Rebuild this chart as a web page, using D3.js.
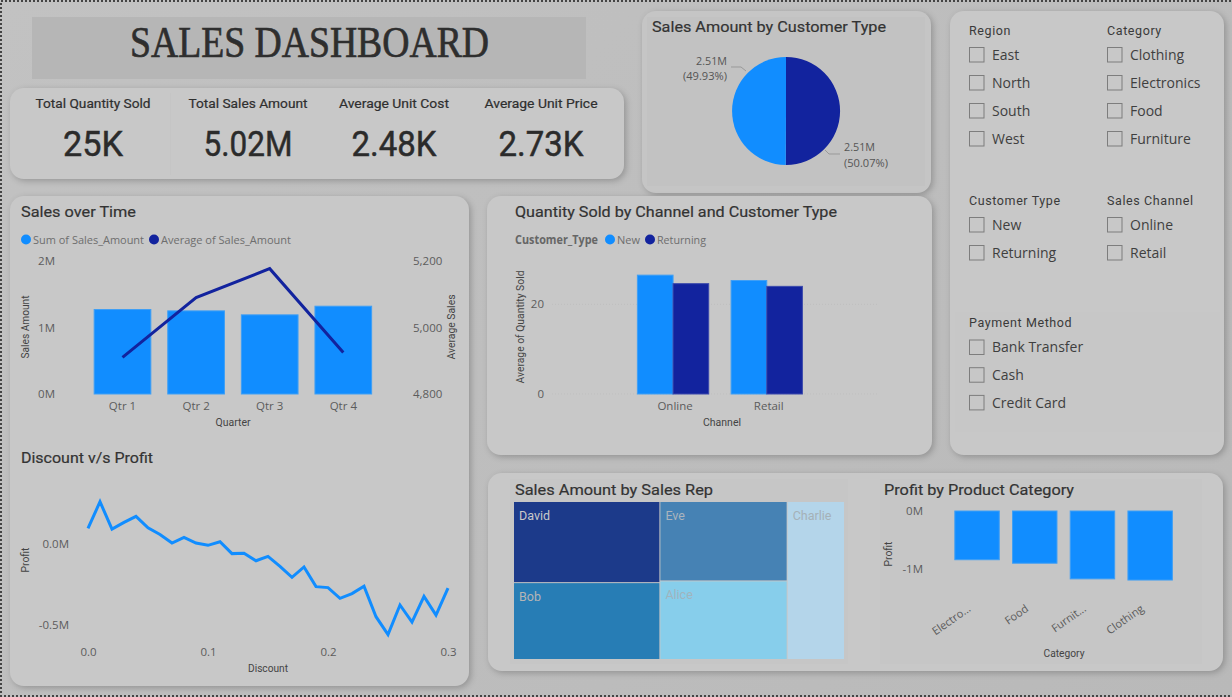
<!DOCTYPE html>
<html>
<head>
<meta charset="utf-8">
<script src="https://cdn.jsdelivr.net/npm/d3@7"></script>
<style>
  html, body { height: 100%; }
  body { margin: 0; background: linear-gradient(135deg, #c2c2c2, #b9b9b9); overflow: hidden; }
  svg { display: block; }
  .panel { filter: drop-shadow(2px 2px 3px rgba(0,0,0,0.22)); }
  .tick text { font-family: "Open Sans", sans-serif; font-size: 11.5px; fill: #5c5c5c; }
</style>
</head>
<body>
<script>
var svgWidth = 1232;
var svgHeight = 697;

// kpi cards
var kpiLabels = ["Total Quantity Sold", "Total Sales Amount", "Average Unit Cost", "Average Unit Price"];
var kpiValues = ["25K", "5.02M", "2.48K", "2.73K"];

// pie
var customerTypes = ["Returning", "New"];
var customerSales = [50.07, 49.93];

// sales over time
var quarters = ["Qtr 1", "Qtr 2", "Qtr 3", "Qtr 4"];
var quarterSum = [1270000, 1250000, 1190000, 1320000];
var quarterAvg = [4910, 5090, 5177, 4925];

// discount v/s profit
var discounts = [0, 0.01, 0.02, 0.03, 0.04, 0.05, 0.06, 0.07, 0.08, 0.09, 0.1, 0.11, 0.12, 0.13, 0.14, 0.15,
  0.16, 0.17, 0.18, 0.19, 0.2, 0.21, 0.22, 0.23, 0.24, 0.25, 0.26, 0.27, 0.28, 0.29, 0.3];
var discountProfit = [0.094, 0.258, 0.09, 0.131, 0.168, 0.098, 0.057, 0.004, 0.039, 0.004, -0.01, 0.012, -0.061, -0.059, -0.105, -0.078,
  -0.139, -0.207, -0.143, -0.264, -0.27, -0.336, -0.307, -0.262, -0.449, -0.559, -0.377, -0.482, -0.324, -0.439, -0.273];

// quantity by channel
var channels = ["Online", "Retail"];
var newQuantity = [26.5, 25.3];
var returningQuantity = [24.6, 24.0];

// treemap
var salesReps = ["David", "Bob", "Eve", "Alice", "Charlie"];
var repSales = [1.14, 1.08, 0.97, 0.96, 0.87];
var repColors = ["#1c3a8a", "#277db5", "#4682b4", "#87ceeb", "#b4d5ea"];
var repTextColors = ["#c9c9c9", "#b5b5b5", "#aab4bd", "#a0b4be", "#a5b1b8"];

// profit by category
var productCategories = ["Electronics", "Food", "Furniture", "Clothing"];
var categoryLabels = ["Electro...", "Food", "Furnit...", "Clothing"];
var categoryProfit = [-0.84, -0.9, -1.17, -1.19];

// slicers
var regionItems = ["East", "North", "South", "West"];
var categoryItems = ["Clothing", "Electronics", "Food", "Furniture"];
var customerItems = ["New", "Returning"];
var channelItems = ["Online", "Retail"];
var paymentItems = ["Bank Transfer", "Cash", "Credit Card"];

var lightBlue = "#118dff";
var darkBlue = "#12239e";
var lightEdge = "#3f9ff5";
var darkEdge = "#3b49ac";
var titleFont = "Roboto, sans-serif";
var bodyFont = "'Open Sans', sans-serif";

var svg = d3.select("body")
  .append("svg")
  .attr("width", svgWidth)
  .attr("height", svgHeight);

function panel(x, y, w, h, r, fill) {
  svg.append("rect")
    .attr("class", "panel")
    .attr("x", x).attr("y", y)
    .attr("width", w).attr("height", h)
    .attr("rx", r)
    .attr("fill", fill || "#c8c8c8");
}

function box(x, y, w, h, fill) {
  svg.append("rect")
    .attr("x", x).attr("y", y)
    .attr("width", w).attr("height", h)
    .attr("fill", fill);
}

// fit = width the text has to fill, it squeezes the glyphs to mimic the narrow font
// heavy = thin outline in the text colour, for weights between regular and bold
function label(x, y, str, o) {
  o = o || {};
  var t = svg.append("text")
    .attr("x", x).attr("y", y)
    .attr("dy", "0.35em")
    .attr("text-anchor", o.anchor || "start")
    .attr("font-family", o.font || titleFont)
    .attr("font-size", o.size || 12)
    .attr("font-weight", o.weight || 400)
    .attr("fill", o.color || "#333")
    .text(str);
  if (o.fit) t.attr("textLength", o.fit).attr("lengthAdjust", "spacingAndGlyphs");
  if (o.rotate) t.attr("transform", `rotate(${o.rotate}, ${x}, ${y})`);
  if (o.spacing) t.attr("letter-spacing", o.spacing);
  if (o.heavy) t.attr("stroke", o.color || "#333").attr("stroke-width", o.heavy);
  return t;
}

function styleAxis(g) {
  g.select(".domain").remove();
  g.selectAll("line").remove();
}

// backgrounds
panel(10, 88, 614, 91, 14);
panel(642, 11, 289, 182, 14, "#c5c5c5");
panel(950, 11, 274, 444, 14);
panel(10, 196, 459, 490, 14);
panel(487, 196, 445, 259, 14);
panel(488, 473, 735, 198, 14);
box(32, 17, 554, 62, "#b6b6b6");
box(647, 17, 278, 169, "#c2c2c2");
box(510, 479, 338, 185, "#c6c6c6");
box(880, 479, 322, 185, "#c6c6c6");
box(955, 312, 265, 120, "#c7c7c7");
box(170, 93, 1, 82, "#c5c5c5");

// title
label(309.5, 42, "SALES DASHBOARD", { anchor: "middle", font: "'Liberation Serif', serif", size: 44, color: "#2e2e2e", fit: 359, heavy: 0.7 });

// kpis
var kpiCentres = [93, 248, 394, 541];
var kpiLabelWidths = [115, 119, 110, 113];
var kpiValueWidths = [60, 89, 85, 85];
kpiLabels.forEach(function(d, i) {
  label(kpiCentres[i], 103.5, d, { anchor: "middle", size: 12.5, color: "#2f2f2f", fit: kpiLabelWidths[i], heavy: 0.2 });
  label(kpiCentres[i], 144, kpiValues[i], { anchor: "middle", size: 35, color: "#2b2b2b", fit: kpiValueWidths[i], heavy: 0.5 });
});

// pie
label(652, 27, "Sales Amount by Customer Type", { size: 15.5, fit: 234, heavy: 0.2 });
var pieGroup = svg.append("g").attr("transform", "translate(786, 111)");
var pie = d3.pie().sort(null);
var arc = d3.arc().innerRadius(0).outerRadius(54);
pieGroup.selectAll("path")
  .data(pie(customerSales))
  .enter()
  .append("path")
  .attr("d", arc)
  .attr("fill", (d, i) => i == 0 ? darkBlue : lightBlue);
svg.append("path").attr("d", "M825,150 L829,154 L840,154").attr("fill", "none").attr("stroke", "#999");
svg.append("path").attr("d", "M746,71 L741,67 L731,67").attr("fill", "none").attr("stroke", "#999");
label(844, 147, "2.51M", { font: bodyFont, size: 11.5, color: "#555", fit: 31 });
label(844, 163, "(50.07%)", { font: bodyFont, size: 11.5, color: "#555", fit: 44 });
label(727, 61, "2.51M", { anchor: "end", font: bodyFont, size: 11.5, color: "#555", fit: 31 });
label(727, 76, "(49.93%)", { anchor: "end", font: bodyFont, size: 11.5, color: "#555", fit: 44 });

// sales over time
label(21, 212, "Sales over Time", { size: 15.5, fit: 115, heavy: 0.2 });
svg.append("circle").attr("cx", 26).attr("cy", 239.5).attr("r", 5).attr("fill", lightBlue);
label(33, 239.5, "Sum of Sales_Amount", { font: bodyFont, size: 11.5, color: "#6e6e6e", fit: 111 });
svg.append("circle").attr("cx", 154).attr("cy", 239.5).attr("r", 5).attr("fill", darkBlue);
label(161, 239.5, "Average of Sales_Amount", { font: bodyFont, size: 11.5, color: "#6e6e6e", fit: 130 });

var qtrX = d3.scaleBand().domain(quarters).range([85.7, 380.1]).paddingInner(0.23).paddingOuter(0.115);
var sumY = d3.scaleLinear().domain([0, 2000000]).range([394, 261]);
var avgY = d3.scaleLinear().domain([4800, 5200]).range([394, 261]);

svg.append("g")
  .attr("transform", "translate(58, 0)")
  .call(d3.axisLeft(sumY).tickValues([0, 1000000, 2000000]).tickFormat(d => d / 1000000 + "M").tickSize(0).tickPadding(3))
  .call(styleAxis);
svg.append("g")
  .attr("transform", "translate(410, 0)")
  .call(d3.axisRight(avgY).tickValues([4800, 5000, 5200]).tickFormat(d3.format(",")).tickSize(0).tickPadding(3))
  .call(styleAxis);
svg.append("g")
  .attr("transform", "translate(0, 398.5)")
  .call(d3.axisBottom(qtrX).tickSize(0).tickPadding(3))
  .call(styleAxis);

svg.selectAll(".qtrBar")
  .data(quarters)
  .enter()
  .append("rect")
  .attr("class", "qtrBar")
  .attr("x", d => qtrX(d))
  .attr("y", (d, i) => sumY(quarterSum[i]))
  .attr("width", qtrX.bandwidth())
  .attr("height", (d, i) => sumY(0) - sumY(quarterSum[i]))
  .attr("fill", lightBlue)
  .attr("stroke", lightEdge);

var avgLine = d3.line()
  .x((d, i) => qtrX(quarters[i]) + qtrX.bandwidth() / 2)
  .y(d => avgY(d));
svg.append("path")
  .attr("d", avgLine(quarterAvg))
  .attr("fill", "none")
  .attr("stroke", darkBlue)
  .attr("stroke-width", 3);

label(25, 327, "Sales Amount", { anchor: "middle", size: 10, color: "#444", rotate: -90, fit: 63 });
label(451, 327, "Average Sales", { anchor: "middle", size: 10, color: "#444", rotate: -90, fit: 65 });
label(233, 422, "Quarter", { anchor: "middle", size: 10, color: "#444", fit: 35 });

// discount v/s profit
label(21, 458, "Discount v/s Profit", { size: 15.5, fit: 132, heavy: 0.2 });
var discX = d3.scaleLinear().domain([0, 0.3]).range([88, 448]);
var discY = d3.scaleLinear().domain([-0.5, 0]).range([625, 543.7]);

svg.append("g")
  .attr("transform", "translate(72, 0)")
  .call(d3.axisLeft(discY).tickValues([-0.5, 0]).tickFormat(d => d.toFixed(1) + "M").tickSize(0).tickPadding(3))
  .call(styleAxis);
svg.append("g")
  .attr("transform", "translate(0, 644.5)")
  .call(d3.axisBottom(discX).tickValues([0, 0.1, 0.2, 0.3]).tickFormat(d3.format(".1f")).tickSize(0).tickPadding(3))
  .call(styleAxis);

var discLine = d3.line()
  .x((d, i) => discX(discounts[i]))
  .y(d => discY(d));
svg.append("path")
  .attr("d", discLine(discountProfit))
  .attr("fill", "none")
  .attr("stroke", lightBlue)
  .attr("stroke-width", 3);

label(25, 560, "Profit", { anchor: "middle", size: 10, color: "#444", rotate: -90, fit: 25 });
label(268, 668, "Discount", { anchor: "middle", size: 10, color: "#444", fit: 40 });

// quantity by channel
label(515, 212, "Quantity Sold by Channel and Customer Type", { size: 15.5, fit: 322, heavy: 0.2 });
label(515, 239.5, "Customer_Type", { font: bodyFont, size: 11.5, weight: 700, color: "#666", fit: 83 });
svg.append("circle").attr("cx", 610).attr("cy", 239.5).attr("r", 5).attr("fill", lightBlue);
label(617, 239.5, "New", { font: bodyFont, size: 11.5, color: "#6e6e6e", fit: 23 });
svg.append("circle").attr("cx", 650).attr("cy", 239.5).attr("r", 5).attr("fill", darkBlue);
label(657, 239.5, "Returning", { font: bodyFont, size: 11.5, color: "#6e6e6e", fit: 49 });

var chanX = d3.scaleBand().domain(channels).range([626.2, 813.6]).paddingInner(0.239).paddingOuter(0.1195);
var subX = d3.scaleBand().domain([0, 1]).range([0, chanX.bandwidth()]);
var qtyY = d3.scaleLinear().domain([0, 20]).range([394, 304.3]);

svg.selectAll(".qtyGrid")
  .data([0, 20])
  .enter()
  .append("line")
  .attr("class", "qtyGrid")
  .attr("x1", 552).attr("x2", 878)
  .attr("y1", d => qtyY(d)).attr("y2", d => qtyY(d))
  .attr("stroke", "#bfbfbf")
  .attr("stroke-dasharray", "1,2");

svg.append("g")
  .attr("transform", "translate(547, 0)")
  .call(d3.axisLeft(qtyY).tickValues([0, 20]).tickSize(0).tickPadding(3))
  .call(styleAxis);
svg.append("g")
  .attr("transform", "translate(2, 398.5)")
  .call(d3.axisBottom(chanX).tickSize(0).tickPadding(3))
  .call(styleAxis);

[newQuantity, returningQuantity].forEach(function(values, s) {
  svg.selectAll(".qtyBar" + s)
    .data(channels)
    .enter()
    .append("rect")
    .attr("class", "qtyBar" + s)
    .attr("x", d => chanX(d) + subX(s))
    .attr("y", (d, i) => qtyY(values[i]))
    .attr("width", subX.bandwidth())
    .attr("height", (d, i) => qtyY(0) - qtyY(values[i]))
    .attr("fill", s == 0 ? lightBlue : darkBlue)
    .attr("stroke", s == 0 ? lightEdge : darkEdge);
});

label(520, 327, "Average of Quantity Sold", { anchor: "middle", size: 10, color: "#444", rotate: -90, fit: 113 });
label(722, 422, "Channel", { anchor: "middle", size: 10, color: "#444", fit: 38 });

// treemap
label(515, 490, "Sales Amount by Sales Rep", { size: 15.5, fit: 198, heavy: 0.2 });
var root = d3.hierarchy({ children: salesReps.map((d, i) => ({ name: d, value: repSales[i], index: i })) })
  .sum(d => d.value || 0);
d3.treemap()
  .tile(d3.treemapSquarify.ratio(1))
  .size([330, 157])
  .paddingInner(1)(root);

var cells = svg.append("g")
  .attr("transform", "translate(514, 502)")
  .selectAll("g")
  .data(root.leaves())
  .enter()
  .append("g")
  .attr("transform", d => `translate(${d.x0}, ${d.y0})`);
cells.append("rect")
  .attr("width", d => d.x1 - d.x0)
  .attr("height", d => d.y1 - d.y0)
  .attr("fill", d => repColors[d.data.index]);
cells.append("text")
  .attr("x", 5)
  .attr("y", 18)
  .attr("font-family", titleFont)
  .attr("font-size", 12.5)
  .attr("fill", d => repTextColors[d.data.index])
  .text(d => d.data.name);

// profit by category
label(884, 490, "Profit by Product Category", { size: 15.5, fit: 190, heavy: 0.2 });
var catX = d3.scaleBand().domain(productCategories).range([948.2, 1179]).paddingInner(0.23).paddingOuter(0.115);
var profitY = d3.scaleLinear().domain([-1, 0]).range([569, 511]);

svg.append("g")
  .attr("transform", "translate(926, 0)")
  .call(d3.axisLeft(profitY).tickValues([-1, 0]).tickFormat(d => d + "M").tickSize(0).tickPadding(3))
  .call(styleAxis);

svg.selectAll(".catBar")
  .data(productCategories)
  .enter()
  .append("rect")
  .attr("class", "catBar")
  .attr("x", d => catX(d))
  .attr("y", profitY(0))
  .attr("width", catX.bandwidth())
  .attr("height", (d, i) => profitY(categoryProfit[i]) - profitY(0))
  .attr("fill", lightBlue)
  .attr("stroke", lightEdge);

var catAxis = svg.append("g")
  .attr("transform", "translate(-10, 604)")
  .call(d3.axisBottom(catX).tickFormat((d, i) => categoryLabels[i]).tickSize(0).tickPadding(0))
  .call(styleAxis);
catAxis.selectAll("text")
  .attr("text-anchor", "end")
  .attr("transform", "rotate(-35)")
  .attr("dy", "0.7em")
  .style("font-size", "11px");

label(888, 554, "Profit", { anchor: "middle", size: 10, color: "#444", rotate: -90, fit: 25 });
label(1064, 653.5, "Category", { anchor: "middle", size: 10, color: "#444", fit: 41 });

// slicers
function slicer(x, titleY, title, items, firstY, stepY) {
  label(x, titleY, title, { size: 12.5, color: "#3a3a3a", spacing: 0.6 });
  var y = d3.scalePoint().domain(items).range([firstY, firstY + stepY * (items.length - 1)]);
  items.forEach(function(d) {
    svg.append("rect")
      .attr("x", x + 0.5).attr("y", y(d) - 7.5)
      .attr("width", 14.5).attr("height", 14.5)
      .attr("fill", "none")
      .attr("stroke", "#7d7d7d");
    label(x + 23, y(d), d, { font: bodyFont, size: 14, color: "#3f3f3f" });
  });
}
slicer(969, 31, "Region", regionItems, 55, 28);
slicer(1107, 31, "Category", categoryItems, 55, 28);
slicer(969, 201, "Customer Type", customerItems, 225, 28);
slicer(1107, 201, "Sales Channel", channelItems, 225, 28);
slicer(969, 323, "Payment Method", paymentItems, 347.5, 27.7);

// selection border of the screenshot: top, left and bottom only
svg.append("path")
  .attr("d", "M1,697 L1,1 L1232,1 M0,696 L1232,696")
  .attr("fill", "none")
  .attr("stroke", "#444")
  .attr("stroke-width", 2)
  .attr("stroke-dasharray", "2,2");
</script>
</body>
</html>
